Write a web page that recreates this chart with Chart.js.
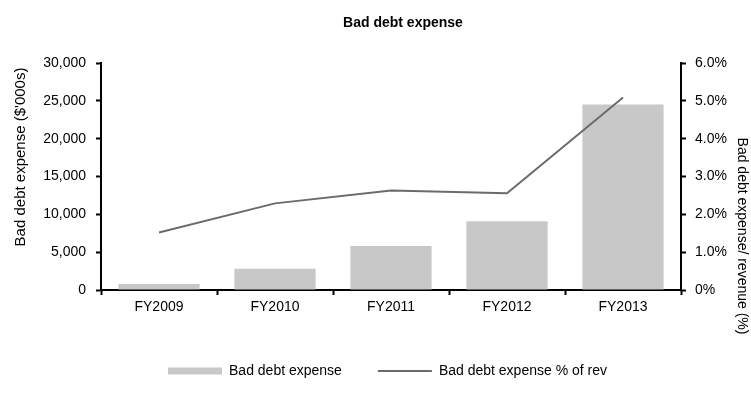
<!DOCTYPE html>
<html lang="en">
<head>
  <meta charset="UTF-8">
  <title>Bad debt expense</title>
  <script src="https://cdn.jsdelivr.net/npm/chart.js@4.4.1/dist/chart.umd.min.js"></script>
  <style>
    body { margin: 0; background: #fff; }
    .chart-container { position: relative; width: 751px; height: 401px; }
  </style>
</head>
<body>
<div class="chart-container">
  <canvas id="chart"></canvas>
</div>

<script>
  const years = ['FY2009', 'FY2010', 'FY2011', 'FY2012', 'FY2013'];
  const badDebt = [800, 2800, 5800, 9100, 24500];        // $'000s
  const badDebtPct = [1.52, 2.29, 2.63, 2.56, 5.09];     // % of revenue
  const leftTicks = { min: 0, max: 30000, step: 5000 };
  const rightTicks = { min: 0, max: 6, step: 1 };

  Chart.defaults.font.family = '"Liberation Sans", Arial, sans-serif';
  Chart.defaults.font.size = 14;
  Chart.defaults.color = '#000';

  const axisLine = { color: '#000', width: 2 };
  const tickMarks = { drawOnChartArea: false, tickLength: 5, tickColor: '#000', tickWidth: 2 };

  // chart title and the two axis titles, placed by hand like the spreadsheet layout
  const titles = {
    id: 'titles',
    afterDraw(chart) {
      const c = chart.ctx;
      const font = Chart.defaults.font.family;
      c.save();
      c.fillStyle = '#000';
      c.textAlign = 'center';
      c.textBaseline = 'middle';

      c.font = 'bold 14px ' + font;
      c.fillText('Bad debt expense', 403, 23);

      c.save();
      c.translate(21, 157);
      c.rotate(-Math.PI / 2);
      c.font = '15px ' + font;
      c.fillText("Bad debt expense ($'000s)", 0, 0);
      c.restore();

      c.save();
      c.translate(742, 236);
      c.rotate(Math.PI / 2);
      c.font = '14px ' + font;
      c.fillText('Bad debt expense/ revenue (%)', 0, 0);
      c.restore();

      c.restore();
    }
  };

  const ctx = document.getElementById('chart').getContext('2d');
  const myChart = new Chart(ctx, {
    data: {
      labels: years,
      datasets: [
        {
          type: 'bar',
          label: 'Bad debt expense',
          data: badDebt,
          backgroundColor: '#c8c8c8',
          yAxisID: 'y',
          categoryPercentage: 0.7,
          barPercentage: 1,
          pointStyle: 'rect',
          order: 2
        },
        {
          type: 'line',
          label: 'Bad debt expense % of rev',
          data: badDebtPct,
          borderColor: '#6b6b6b',
          backgroundColor: '#6b6b6b',
          borderWidth: 2,
          pointRadius: 0,
          pointStyle: 'line',
          tension: 0,
          yAxisID: 'y1',
          order: 1
        }
      ]
    },
    options: {
      responsive: true,
      maintainAspectRatio: false,
      animation: false,
      layout: { padding: { left: 24, right: 0, top: 63, bottom: 13 } },
      plugins: {
        tooltip: { enabled: false },
        title: { display: false },
        legend: {
          position: 'bottom',
          labels: {
            usePointStyle: true,
            pointStyleWidth: 54,
            boxHeight: 7,
            padding: 36,
            font: { size: 14 },
            sort: (a, b) => a.datasetIndex - b.datasetIndex
          }
        }
      },
      scales: {
        x: {
          grid: { ...tickMarks, offset: true },
          border: axisLine,
          ticks: { padding: 4, maxRotation: 0 },
          afterFit: s => { s.height = 38; }
        },
        y: {
          position: 'left',
          min: leftTicks.min,
          max: leftTicks.max,
          grid: tickMarks,
          border: axisLine,
          ticks: { stepSize: leftTicks.step, padding: 10 },
          afterFit: s => { s.width = 77; }
        },
        y1: {
          position: 'right',
          min: rightTicks.min,
          max: rightTicks.max,
          grid: tickMarks,
          border: axisLine,
          ticks: {
            stepSize: rightTicks.step,
            padding: 9,
            callback: v => v === 0 ? '0%' : v.toFixed(1) + '%'
          },
          afterFit: s => { s.width = 70; }
        }
      }
    },
    plugins: [titles]
  });
</script>
</body>
</html>
